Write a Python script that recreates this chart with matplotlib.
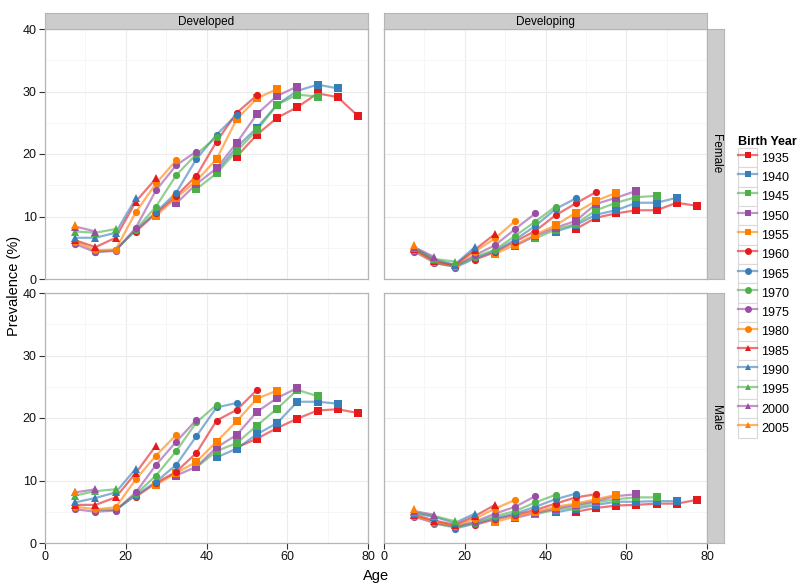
import matplotlib.pyplot as plt
import numpy as np
from matplotlib.lines import Line2D
from matplotlib.patches import Patch

plt.rcParams['font.family'] = ['Liberation Sans', 'DejaVu Sans']

# age groups (midpoints) and birth cohorts
age_points = np.arange(7.5, 80, 5)
birth_years = [1935, 1940, 1945, 1950, 1955, 1960, 1965, 1970, 1975,
               1980, 1985, 1990, 1995, 2000, 2005]

# prevalence (%) per cohort, in order of age (first observed age onward)
developed_female = [
    [19.6, 23.1, 25.8, 27.5, 29.7, 29.1, 26.1],
    [17.2, 21.1, 24.2, 27.9, 30.1, 31.1, 30.5],
    [14.4, 16.9, 20.5, 23.8, 27.9, 29.5, 29.2],
    [12.1, 15.2, 17.7, 21.8, 26.4, 29.3, 30.8],
    [10.1, 13.0, 15.7, 19.2, 25.6, 28.9, 30.4],
    [7.6, 10.5, 13.3, 16.5, 22.0, 26.6, 29.4],
    [4.7, 7.8, 10.7, 13.8, 19.2, 23.1, 26.3],
    [4.4, 4.6, 7.9, 11.6, 16.6, 20.0, 22.7],
    [5.6, 4.3, 4.5, 8.2, 14.2, 18.2, 20.4],
    [6.0, 4.6, 4.7, 10.7, 15.3, 19.0],
    [6.2, 5.1, 6.6, 12.4, 16.1],
    [6.6, 6.6, 7.4, 12.9],
    [7.6, 7.4, 8.0],
    [8.4, 7.6],
    [8.7],
]
developing_female = [
    [8.0, 9.8, 10.5, 11.0, 11.0, 12.2, 11.7],
    [7.6, 8.6, 10.3, 11.0, 12.2, 12.2, 13.0],
    [6.5, 7.9, 8.8, 11.0, 12.2, 13.1, 13.3],
    [5.3, 6.9, 8.2, 9.3, 12.0, 13.0, 14.1],
    [4.0, 5.5, 7.1, 8.6, 10.6, 12.5, 13.8],
    [3.1, 4.3, 6.0, 7.7, 10.2, 12.1, 13.9],
    [1.8, 3.3, 4.5, 6.3, 8.5, 11.2, 12.9],
    [2.5, 2.0, 3.5, 4.7, 6.9, 9.2, 11.6],
    [4.4, 2.6, 2.0, 3.8, 5.4, 8.0, 10.5],
    [4.6, 2.7, 2.1, 4.4, 6.5, 9.3],
    [4.8, 2.9, 2.2, 4.7, 7.2],
    [4.9, 3.1, 2.3, 5.1],
    [5.0, 3.2, 2.8],
    [5.1, 3.5],
    [5.4],
]
developed_male = [
    [15.3, 16.7, 18.4, 19.9, 21.2, 21.4, 20.8],
    [13.7, 15.1, 17.4, 19.2, 22.6, 22.6, 22.3],
    [12.1, 14.7, 16.0, 18.8, 21.5, 24.5, 23.5],
    [10.8, 12.2, 15.3, 17.3, 21.0, 23.2, 24.8],
    [9.3, 11.2, 13.0, 16.2, 19.5, 23.1, 24.4],
    [7.4, 9.6, 11.4, 14.4, 19.6, 21.3, 24.5],
    [5.3, 7.6, 9.8, 12.5, 17.1, 21.7, 22.4],
    [5.3, 5.3, 7.8, 10.8, 14.7, 19.3, 22.1],
    [5.4, 5.0, 5.2, 8.1, 12.5, 16.2, 19.7],
    [5.8, 5.4, 5.7, 10.2, 14.0, 17.3],
    [6.1, 6.1, 7.3, 11.2, 15.6],
    [6.5, 7.2, 8.1, 11.9],
    [7.6, 8.3, 8.6],
    [8.1, 8.6],
    [8.2],
]
developing_male = [
    [5.0, 5.6, 6.0, 6.1, 6.3, 6.3, 6.9],
    [4.9, 5.5, 6.1, 6.6, 6.6, 6.7, 6.7],
    [4.6, 5.3, 5.8, 6.5, 7.0, 7.3, 7.3],
    [4.0, 4.8, 5.5, 6.1, 6.7, 7.5, 7.8],
    [3.4, 4.2, 5.0, 5.8, 6.3, 7.0, 7.7],
    [2.9, 3.8, 4.5, 5.3, 6.3, 7.3, 7.8],
    [2.3, 3.1, 4.0, 4.7, 5.8, 7.0, 7.9],
    [3.1, 2.5, 3.2, 4.3, 5.1, 6.5, 7.7],
    [4.2, 3.2, 2.6, 3.4, 4.7, 5.8, 7.5],
    [4.3, 3.4, 2.7, 3.9, 5.5, 6.9],
    [4.5, 3.6, 2.9, 4.3, 6.1],
    [4.7, 4.2, 3.2, 4.7],
    [4.9, 4.3, 3.5],
    [5.1, 4.5],
    [5.4],
]

palette = ['#E41A1C', '#377EB8', '#4DAF4A', '#984EA3', '#FF7F00']
shapes = ['s', 'o', '^']


def cohort_ages(by, n):
    ages = [a for a in age_points if by + a >= 1982.5]
    return ages[:n]


fig = plt.figure(figsize=(8, 5.86), dpi=100)
pl, pw = 45 / 800, 323 / 800
pr = 384 / 800
ph = 250 / 586
rows = [1 - 279 / 586, 1 - 543 / 586]

panels = [
    (0, 0, developed_female), (0, 1, developing_female),
    (1, 0, developed_male), (1, 1, developing_male),
]

for r, c, data in panels:
    ax = fig.add_axes([pl if c == 0 else pr, rows[r], pw, ph])
    ax.set_xlim(0, 80)
    ax.set_ylim(0, 40)
    ax.set_xticks([0, 20, 40, 60, 80])
    ax.set_yticks([0, 10, 20, 30, 40])
    ax.set_xticks([10, 30, 50, 70], minor=True)
    ax.set_yticks([5, 15, 25, 35], minor=True)
    ax.grid(which='major', color='#ECECEC', lw=0.8)
    ax.grid(which='minor', color='#F5F5F5', lw=0.6)
    ax.set_axisbelow(True)
    for s in ax.spines.values():
        s.set_color('#B5B5B5')
        s.set_linewidth(0.9)
    ax.tick_params(which='minor', length=0)
    ax.tick_params(which='major', length=4, width=0.8, color='#333333',
                   labelcolor='#111111', labelsize=9, pad=2)
    if c == 1:
        ax.tick_params(axis='y', length=0, labelleft=False)
    if r == 0:
        ax.tick_params(axis='x', length=0, labelbottom=False)

    for i, (by, vals) in enumerate(zip(birth_years, data)):
        ax.plot(cohort_ages(by, len(vals)), vals, color=palette[i % 5],
                lw=1.6, alpha=0.6, solid_capstyle='round', zorder=2)
    for i, (by, vals) in enumerate(zip(birth_years, data)):
        ax.plot(cohort_ages(by, len(vals)), vals, ls='none',
                marker=shapes[i // 5], color=palette[i % 5],
                markersize=5.2, markeredgewidth=0, zorder=3)

    # facet strips
    if r == 0:
        sx = ax.inset_axes([0, 1.0, 1, 16 / 250])
        sx.set_facecolor('#CCCCCC')
        sx.set_xticks([]); sx.set_yticks([])
        for s in sx.spines.values():
            s.set_color('#B5B5B5')
        sx.text(0.5, 0.45, ['Developed', 'Developing'][c], ha='center',
                va='center', fontsize=8.5, transform=sx.transAxes)
    if c == 1:
        sy = ax.inset_axes([1.0, 0, 17 / 323, 1])
        sy.set_facecolor('#CCCCCC')
        sy.set_xticks([]); sy.set_yticks([])
        for s in sy.spines.values():
            s.set_color('#B5B5B5')
        sy.text(0.5, 0.5, ['Female', 'Male'][r], ha='center', va='center',
                rotation=-90, fontsize=8.5, transform=sy.transAxes)

fig.text(376 / 800, 1 - 576 / 586, 'Age', ha='center', va='center',
         fontsize=10.5)
fig.text(14 / 800, 1 - 286 / 586, 'Prevalence (%)', ha='center',
         va='center', rotation=90, fontsize=10.5)

# legend keys: grey-bordered box, translucent line, opaque marker
handles = []
for i in range(len(birth_years)):
    box = Patch(facecolor='white', edgecolor='#D9D9D9', lw=0.8)
    line = Line2D([], [], color=palette[i % 5], lw=1.6, alpha=0.6)
    mark = Line2D([], [], color=palette[i % 5], marker=shapes[i // 5],
                  ls='none', markersize=5, markeredgewidth=0)
    handles.append((box, line, mark))

leg = fig.legend(handles, [str(b) for b in birth_years],
                 loc='upper left', bbox_to_anchor=(738 / 800, 1 - 136 / 586),
                 frameon=False, fontsize=9, handlelength=1.55,
                 handleheight=2.0, labelspacing=0.0, handletextpad=0.3,
                 title='Birth Year', title_fontproperties={'weight': 'bold',
                                                           'size': 9},
                 alignment='left', borderaxespad=0, borderpad=0)

fig.savefig('out.png', dpi=100, facecolor='white')
